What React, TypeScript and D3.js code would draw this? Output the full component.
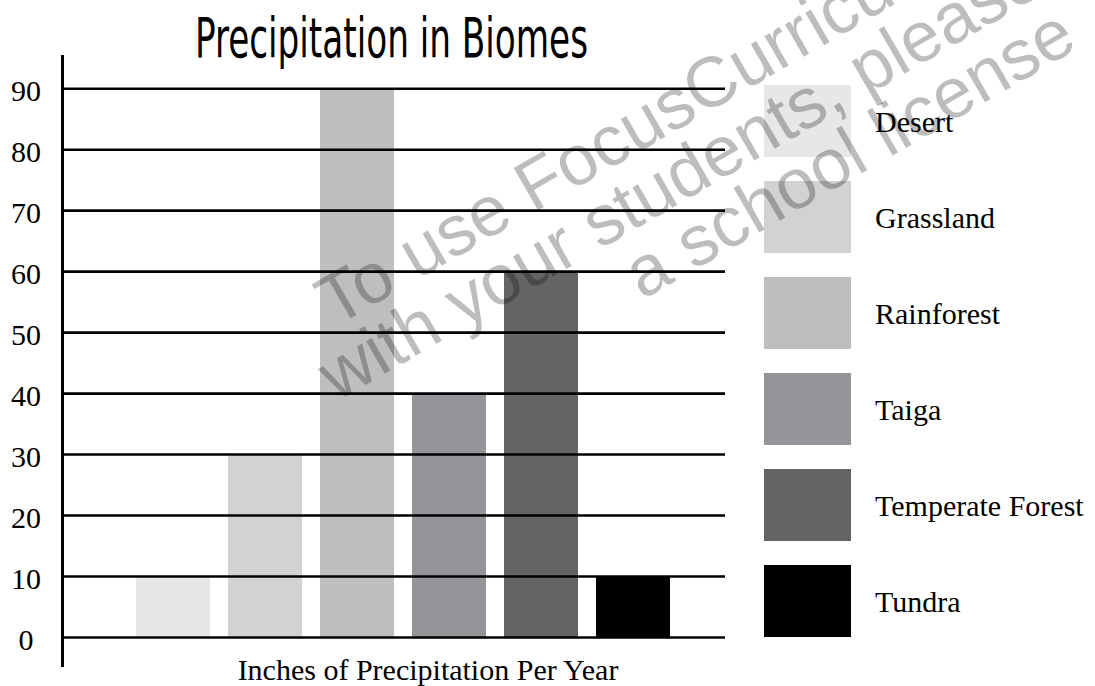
import React from "react";
import * as d3 from "d3";

const categories = ["Desert", "Grassland", "Rainforest", "Taiga", "Temperate Forest", "Tundra"];
const values = [10, 30, 90, 40, 60, 10];
const colors = ["#e6e7e8", "#d1d2d4", "#bcbec0", "#939598", "#636466", "#000000"];
const yTicks = [0, 10, 20, 30, 40, 50, 60, 70, 80, 90];
const titleText = "Precipitation in Biomes";
const xAxisTitle = "Inches of Precipitation Per Year";
const watermarkLines = ["To use FocusCurriculum,", "with your students, please", "a school license"];

const W = 1095;
const H = 686;

export default function App() {
  const x = d3
    .scaleBand<string>()
    .domain(categories)
    .range([118, 688])
    .paddingInner(18 / 92)
    .paddingOuter(18 / 92);
  const y = d3.scaleLinear().domain([0, 90]).range([637.5, 88.7]);
  const legendY = d3.scaleBand<string>().domain(categories).range([85, 637]).paddingInner(24 / 96).paddingOuter(0);

  const serif = "'Liberation Serif', 'DejaVu Serif', serif";

  return (
    <svg
      width={W}
      height={H}
      viewBox={`0 0 ${W} ${H}`}
      style={{ position: "absolute", left: 0, top: 0, background: "#fff" }}
    >
      <rect x={0} y={0} width={W} height={H} fill="#fff" />
      {/* Title */}
      <text
        x={195}
        y={57}
        textLength={393}
        lengthAdjust="spacingAndGlyphs"
        fontFamily="'DejaVu Sans', sans-serif"
        fontStretch="condensed"
        fontSize={56}
        fill="#000"
      >
        {titleText}
      </text>

      {/* Bars */}
      {categories.map((c, i) => (
        <rect
          key={c}
          x={x(c)}
          y={y(values[i])}
          width={x.bandwidth()}
          height={y(0) - y(values[i])}
          fill={colors[i]}
        />
      ))}

      {/* Gridlines */}
      {yTicks.map((t) => (
        <line key={t} x1={63} x2={725} y1={y(t)} y2={y(t)} stroke="#000" strokeWidth={2.6} />
      ))}

      {/* Y axis line */}
      <line x1={62.5} x2={62.5} y1={55} y2={667} stroke="#000" strokeWidth={3} />

      {/* Tick labels */}
      {yTicks.map((t) => (
        <text
          key={t}
          x={26}
          y={y(t) + 12.5}
          textAnchor="middle"
          fontFamily={serif}
          fontSize={30}
          fill="#000"
        >
          {t}
        </text>
      ))}

      {/* X axis title */}
      <text x={428} y={680} textAnchor="middle" fontFamily={serif} fontSize={30} fill="#000">
        {xAxisTitle}
      </text>

      {/* Legend */}
      {categories.map((c, i) => (
        <g key={c}>
          <rect x={764} y={legendY(c)} width={87} height={legendY.bandwidth()} fill={colors[i]} />
          <text
            x={875}
            y={(legendY(c) as number) + legendY.bandwidth() / 2 + 11}
            fontFamily={serif}
            fontSize={30}
            fill="#000"
          >
            {c}
          </text>
        </g>
      ))}

      {/* Watermark */}
      <g transform="translate(322,335) rotate(-30)" fill="#000" fillOpacity={0.26}>
        {watermarkLines.map((l, i) => (
          <text
            key={l}
            x={800}
            y={i * 65}
            textAnchor="end"
            fontFamily="'Liberation Sans', Arial, sans-serif"
            fontSize={71}
          >
            {l}
          </text>
        ))}
      </g>
    </svg>
  );
}
